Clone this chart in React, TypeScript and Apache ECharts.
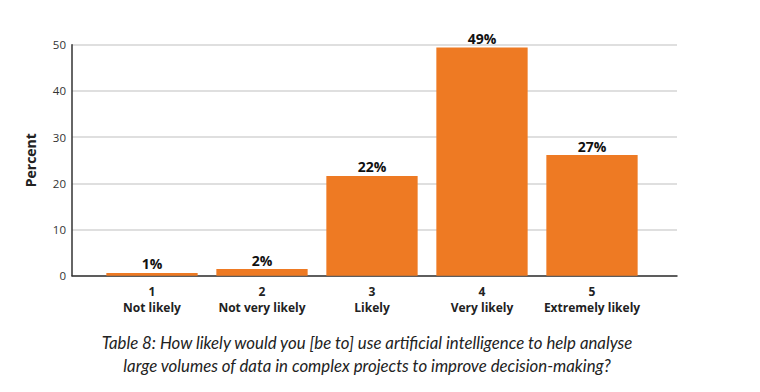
import React, { useEffect, useRef } from "react";
import * as echarts from "echarts";

const categories = ["1\nNot likely", "2\nNot very likely", "3\nLikely", "4\nVery likely", "5\nExtremely likely"];
const values = [0.6, 1.45, 21.6, 49.4, 26.1];
const valueLabels = ["1%", "2%", "22%", "49%", "27%"];
const yTicks = [0, 10, 20, 30, 40, 50];
const captionLines = [
  "Table 8: How likely would you [be to] use artificial intelligence to help analyse",
  "large volumes of data in complex projects to improve decision-making?",
];

export default function App() {
  const ref = useRef<HTMLDivElement>(null);
  useEffect(() => {
    if (!ref.current) return;
    const chart = echarts.init(ref.current, undefined, { renderer: "svg" });
    const font = "'Open Sans', 'Noto Sans', sans-serif";
    const yMin = yTicks[0];
    const yMax = yTicks[yTicks.length - 1];
    chart.setOption({
      animation: false,
      backgroundColor: "#ffffff",
      grid: [
        { left: 72, right: 83, top: 44.7, bottom: 116.3, containLabel: false },
        { left: 97, right: 113, top: 44.7, bottom: 116.3, containLabel: false },
      ],
      xAxis: [
        {
          gridIndex: 0,
          type: "value",
          min: 0,
          max: 1,
          axisLine: { show: true, onZero: false, lineStyle: { color: "#333333", width: 1.5 } },
          axisTick: { show: false },
          axisLabel: { show: false },
          splitLine: { show: false },
        },
        {
          gridIndex: 1,
          type: "category",
          data: categories,
          axisLine: { show: false },
          axisTick: { show: false },
          axisLabel: {
            margin: 8,
            fontFamily: font,
            fontWeight: "bold",
            fontSize: 12,
            lineHeight: 16,
            color: "#222222",
            interval: 0,
          },
        },
      ],
      yAxis: [
        {
          gridIndex: 0,
          type: "value",
          min: yMin,
          max: yMax,
          interval: 10,
          name: "Percent",
          nameLocation: "middle",
          nameGap: 35,
          nameRotate: 90,
          nameTextStyle: { fontFamily: font, fontWeight: "bold", fontSize: 14, color: "#222222" },
          axisLine: { show: true, lineStyle: { color: "#333333", width: 1.5 } },
          axisTick: { show: false },
          axisLabel: { margin: 6, fontFamily: font, fontSize: 11.5, color: "#333333" },
          splitLine: { show: true, lineStyle: { color: "#d4d4d4", width: 1.5 } },
        },
        {
          gridIndex: 1,
          type: "value",
          min: yMin,
          max: yMax,
          show: false,
          splitLine: { show: false },
        },
      ],
      series: [
        {
          type: "bar",
          xAxisIndex: 1,
          yAxisIndex: 1,
          data: values,
          barCategoryGap: "17%",
          itemStyle: { color: "#ee7a23" },
          label: {
            show: true,
            position: "top",
            distance: 2,
            formatter: (p: any) => valueLabels[p.dataIndex],
            fontFamily: font,
            fontWeight: "bold",
            fontSize: 14,
            color: "#111111",
          },
        },
      ],
      graphic: captionLines.map((t, i) => ({
        type: "text",
        x: 367,
        y: 342 + i * 23,
        style: {
          text: t,
          align: "center",
          verticalAlign: "middle",
          fontFamily: "Lato, 'Open Sans', sans-serif",
          fontStyle: "italic",
          fontSize: 16.8,
          fill: "#222222",
        },
      })),
    });
    return () => chart.dispose();
  }, []);
  return (
    <div
      ref={ref}
      style={{ position: "fixed", left: 0, top: 0, width: 760, height: 392 }}
    />
  );
}
